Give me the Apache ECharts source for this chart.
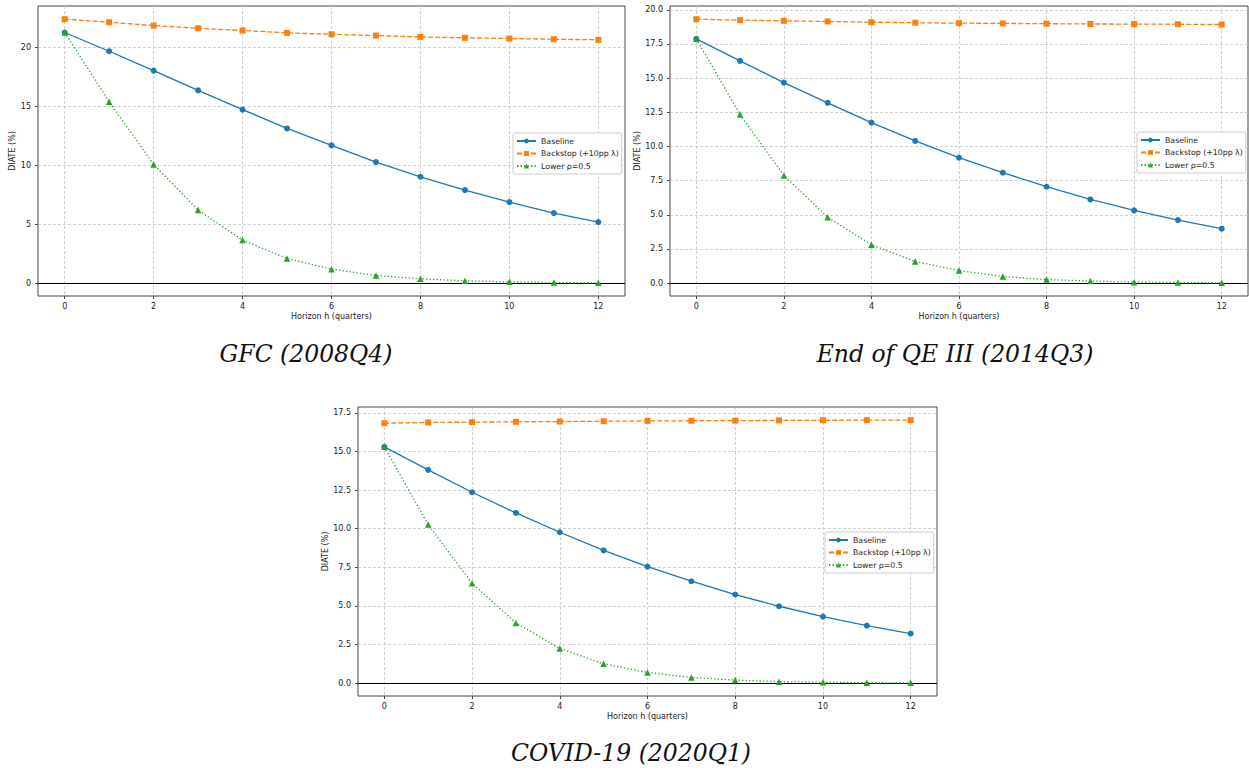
<!DOCTYPE html>
<html>
<head>
<meta charset="utf-8">
<script src="https://cdn.jsdelivr.net/npm/echarts@6/dist/echarts.min.js"></script>
<style>html,body{margin:0;padding:0;background:#fff;}#c{width:1249px;height:771px;}</style>
</head>
<body>
<div id="c"></div>
<script>
// ---- data ----
const horizons = [0,1,2,3,4,5,6,7,8,9,10,11,12];
const xTicks = [0,2,4,6,8,10,12];
const seriesNames = ['Baseline', 'Backstop (+10pp λ)', 'Lower ρ=0.5'];
const panelTitles = ['GFC (2008Q4)', 'End of QE III (2014Q3)', 'COVID-19 (2020Q1)'];
const yAxisName = 'DIATE (%)';
const xAxisName = 'Horizon h (quarters)';

const gfcBaseline = [21.25, 19.66, 18.02, 16.35, 14.71, 13.12, 11.68, 10.27, 9.02, 7.89, 6.87, 5.94, 5.18];
const gfcBackstop = [22.38, 22.12, 21.84, 21.61, 21.42, 21.22, 21.10, 20.99, 20.88, 20.80, 20.74, 20.68, 20.63];
const gfcLower    = [21.25, 15.39, 10.07, 6.20, 3.65, 2.09, 1.19, 0.65, 0.37, 0.20, 0.11, 0.05, 0.03];
const gfcYTicks   = [0, 5, 10, 15, 20];

const qeBaseline = [17.87, 16.26, 14.67, 13.19, 11.74, 10.40, 9.18, 8.08, 7.05, 6.12, 5.32, 4.61, 3.98];
const qeBackstop = [19.31, 19.24, 19.19, 19.14, 19.09, 19.05, 19.02, 19.00, 18.98, 18.96, 18.95, 18.94, 18.92];
const qeLower    = [17.87, 12.33, 7.88, 4.81, 2.81, 1.58, 0.92, 0.48, 0.26, 0.15, 0.07, 0.04, 0.02];
const qeYTicks   = [0, 2.5, 5, 7.5, 10, 12.5, 15, 17.5, 20];

const covBaseline = [15.30, 13.81, 12.36, 11.02, 9.77, 8.60, 7.55, 6.60, 5.74, 4.98, 4.31, 3.73, 3.21];
const covBackstop = [16.83, 16.88, 16.90, 16.92, 16.94, 16.96, 16.98, 16.99, 17.00, 17.01, 17.02, 17.03, 17.03];
const covLower    = [15.30, 10.27, 6.47, 3.90, 2.25, 1.25, 0.69, 0.37, 0.20, 0.10, 0.06, 0.03, 0.02];
const covYTicks   = [0, 2.5, 5, 7.5, 10, 12.5, 15, 17.5];

// ---- layout / style ----
const panels = [
  { data: [gfcBaseline, gfcBackstop, gfcLower], yTicks: gfcYTicks, dec: 0,
    grid: {left: 38, top: 6, width: 587, height: 290}, nameGap: 17,
    legend: {left: 513, top: 133}, title: {x: 306, y: 354} },
  { data: [qeBaseline, qeBackstop, qeLower], yTicks: qeYTicks, dec: 1,
    grid: {left: 670, top: 6, width: 578, height: 290}, nameGap: 26,
    legend: {left: 1137, top: 132}, title: {x: 955, y: 354} },
  { data: [covBaseline, covBackstop, covLower], yTicks: covYTicks, dec: 1,
    grid: {left: 358, top: 407, width: 579, height: 289}, nameGap: 26,
    legend: {left: 825, top: 532}, title: {x: 631, y: 753} }
];

const colors = ['#1f77b4', '#ff7f0e', '#2ca02c'];
const symbols = ['circle', 'rect', 'triangle'];
const lineTypes = ['solid', [5, 2], [1.3, 2.2]];
const font = 'DejaVu Sans';

const option = {
  animation: false,
  backgroundColor: '#ffffff',
  grid: [], xAxis: [], yAxis: [], series: [], legend: [], graphic: []
};

panels.forEach((p, i) => {
  const all = [].concat(...p.data);
  const dmin = Math.min(...all), dmax = Math.max(...all);
  const pad = (dmax - dmin) * 0.05;
  option.grid.push(Object.assign({show: true, borderColor: '#444', borderWidth: 1, backgroundColor: '#fff'}, p.grid));
  option.xAxis.push({
    type: 'value', gridIndex: i,
    min: horizons[0] - (horizons[horizons.length-1] - horizons[0]) * 0.05,
    max: horizons[horizons.length-1] + (horizons[horizons.length-1] - horizons[0]) * 0.05,
    name: xAxisName, nameLocation: 'middle', nameGap: 16,
    nameTextStyle: {fontFamily: font, fontSize: 8, color: '#222'},
    axisLine: {show: false, onZero: false},
    axisTick: {show: true, inside: false, length: 3, customValues: xTicks, lineStyle: {color: '#444'}},
    axisLabel: {customValues: xTicks, fontFamily: font, fontSize: 8, color: '#222', margin: 6},
    splitLine: {show: true, lineStyle: {color: '#c4c4c4', width: 0.8, type: [3, 2]}}
  });
  option.yAxis.push({
    type: 'value', gridIndex: i,
    min: dmin - pad, max: dmax + pad,
    name: yAxisName, nameLocation: 'middle', nameGap: p.nameGap, nameRotate: 90,
    nameTextStyle: {fontFamily: font, fontSize: 8, color: '#222'},
    axisLine: {show: false, onZero: false},
    axisTick: {show: true, inside: false, length: 3, customValues: p.yTicks, lineStyle: {color: '#444'}},
    axisLabel: {customValues: p.yTicks, fontFamily: font, fontSize: 8, color: '#222', margin: 7,
      formatter: v => Number(v).toFixed(p.dec)},
    splitLine: {show: true, lineStyle: {color: '#c4c4c4', width: 0.8, type: [3, 2]}}
  });
  p.data.forEach((vals, k) => {
    const s = {
      type: 'line', name: seriesNames[k], xAxisIndex: i, yAxisIndex: i,
      data: horizons.map((h, j) => [h, vals[j]]),
      symbol: symbols[k], symbolSize: k === 2 ? 6.5 : 6,
      lineStyle: {color: colors[k], width: 1.3, type: lineTypes[k]},
      itemStyle: {color: colors[k]},
      z: 3 + k
    };
    if (k === 0) {
      s.markLine = {silent: true, symbol: 'none', label: {show: false},
        lineStyle: {color: '#000', width: 1, type: 'solid'}, data: [{yAxis: 0}]};
    }
    option.series.push(s);
  });
  option.legend.push({
    orient: 'vertical', left: p.legend.left, top: p.legend.top,
    data: seriesNames,
    itemWidth: 19, itemHeight: 6, itemGap: 4.5,
    padding: [4, 3, 4, 3],
    backgroundColor: 'rgba(255,255,255,0.85)', borderColor: '#cccccc', borderWidth: 1, borderRadius: 2,
    textStyle: {fontFamily: font, fontSize: 7.8, color: '#222'},
    selectedMode: false
  });
  option.graphic.push({
    type: 'text', x: p.title.x, y: p.title.y,
    style: {text: panelTitles[i], fontFamily: 'DejaVu Serif', fontStyle: 'italic', fontSize: 23.5,
      fill: '#111', textAlign: 'center', textVerticalAlign: 'middle'}
  });
});

const chart = echarts.init(document.getElementById('c'), null, {renderer: 'svg'});
chart.setOption(option);
</script>
</body>
</html>
